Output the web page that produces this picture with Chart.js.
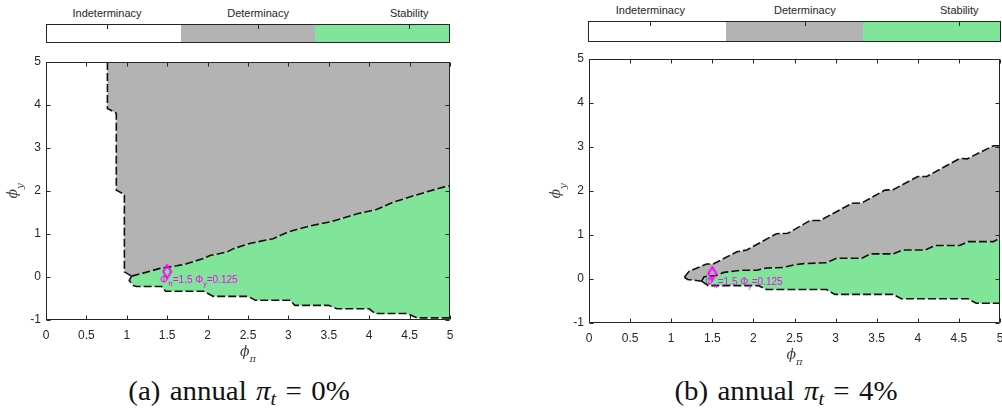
<!DOCTYPE html>
<html lang="en">
<head>
<meta charset="UTF-8">
<title>Determinacy regions</title>
<style>
    body {
        margin: 0;
        width: 1002px;
        height: 412px;
        position: relative;
        overflow: hidden;
        background: #ffffff;
        font-family: 'Liberation Sans', Arial, sans-serif;
    }
    .panel { position: absolute; }
    .cbar {
        position: absolute;
        display: flex;
        border: 1px solid #262626;
        box-sizing: border-box;
    }
    .cbar div { flex: 1; }
    .cbar-label {
        position: absolute;
        font-size: 11px;
        line-height: 12px;
        color: #262626;
        transform: translateX(-50%);
        white-space: nowrap;
    }
    .cbar-tick {
        position: absolute;
        width: 1px;
        height: 4px;
        background: #262626;
    }
    .caption {
        position: absolute;
        font-family: 'Liberation Serif', 'Times New Roman', serif;
        font-size: 27px;
        line-height: 27px;
        word-spacing: 2px;
        color: #111111;
        white-space: nowrap;
        transform: translateX(-50%) scaleX(1.07);
    }
    .caption sub { font-size: 0.7em; vertical-align: -0.25em; line-height: 0; }
</style>
</head>
<body>
<div class="panel" style="left:0px; top:50px;"><canvas id="chartA" width="500" height="320"></canvas></div>
<div class="panel" style="left:543px; top:47px;"><canvas id="chartB" width="459" height="326"></canvas></div>
<div class="caption" style="left:239px; top:378px;">(a) annual <i>π</i><sub><i>t</i></sub> = 0%</div>
<div class="caption" style="left:786px; top:378px;">(b) annual <i>π</i><sub><i>t</i></sub> = 4%</div>

<script src="https://cdn.jsdelivr.net/npm/chart.js"></script>
<script>
    const xTicks = [0, 0.5, 1, 1.5, 2, 2.5, 3, 3.5, 4, 4.5, 5];
    const yTicks = [-1, 0, 1, 2, 3, 4, 5];
    const regionLabels = ['Indeterminacy', 'Determinacy', 'Stability'];
    const regionColors = ['#ffffff', '#b3b3b3', '#80e599'];
    const labelPos = [0.151, 0.525, 0.899];

    // rule marker and its label
    const rulePoint = [1.5, 0.125];
    const ruleTextAt = [1.41, -0.07];
    const ruleText = [['Φ', 0], ['π', 1], ['=1.5 Φ', 0], ['y', 1], ['=0.125', 0]];

    // (a) annual inflation 0% : region boundaries (phi_pi, phi_y)
    const aWhiteGray = [[0.76, 5], [0.76, 3.92], [0.87, 3.81], [0.87, 2.02], [0.97, 1.92], [0.97, 0.12], [1.06, 0.02]];
    const aGrayGreen = [[1.06, 0.02], [1.2, 0.09], [1.41, 0.2], [1.62, 0.26], [1.74, 0.31], [1.95, 0.43], [2.03, 0.5],
        [2.24, 0.58], [2.32, 0.66], [2.52, 0.78], [2.81, 0.89], [3.0, 1.05], [3.27, 1.19], [3.51, 1.28], [3.68, 1.37],
        [3.85, 1.47], [4.09, 1.57], [4.3, 1.74], [4.5, 1.86], [4.71, 1.98], [4.92, 2.09], [5, 2.12]];
    const aGreenWhite = [[1.06, 0.02], [1.03, -0.08], [1.08, -0.2], [1.12, -0.22], [1.43, -0.22], [1.48, -0.33],
        [1.95, -0.33], [2.07, -0.45], [2.5, -0.45], [2.59, -0.54], [3.02, -0.54], [3.08, -0.66], [3.5, -0.66],
        [3.6, -0.74], [4.0, -0.74], [4.07, -0.85], [4.47, -0.85], [4.59, -0.95], [5, -0.95]];

    // (b) annual inflation 4%
    const bWhiteGray = [[1.16, 0.04], [1.22, 0.18], [1.43, 0.34], [1.51, 0.34], [1.8, 0.62], [1.92, 0.66], [2.28, 1.03],
        [2.42, 1.04], [2.69, 1.33], [2.81, 1.33], [3.2, 1.72], [3.32, 1.73], [3.6, 2.02], [3.7, 2.03], [4.0, 2.33],
        [4.11, 2.33], [4.51, 2.74], [4.6, 2.73], [4.92, 3.03], [5, 3.03]];
    const bWhiteGrayLow = [[1.16, 0.04], [1.2, -0.01], [1.37, -0.05]];
    const bGrayGreen = [[1.37, -0.05], [1.4, 0.05], [1.55, 0.08], [1.64, 0.15], [1.86, 0.2], [2.04, 0.2], [2.16, 0.25],
        [2.36, 0.26], [2.49, 0.32], [2.61, 0.35], [2.89, 0.37], [3.01, 0.47], [3.32, 0.47], [3.42, 0.57], [3.7, 0.57],
        [3.82, 0.66], [4.09, 0.66], [4.21, 0.76], [4.51, 0.76], [4.61, 0.85], [4.92, 0.85], [5, 0.93]];
    const bGreenWhite = [[1.37, -0.05], [1.45, -0.15], [2.06, -0.15], [2.16, -0.24], [2.89, -0.24], [2.99, -0.35],
        [3.7, -0.35], [3.8, -0.45], [4.61, -0.45], [4.71, -0.55], [5, -0.55]];

    const axisColor = '#262626';
    const sans = "'Liberation Sans', Arial, sans-serif";
    const serif = "'DejaVu Serif', serif";
    Chart.defaults.font.family = sans;

    const toXY = pts => pts.map(([x, y]) => ({x: x, y: y}));

    function polygon(pts, color) {
        return { data: toXY(pts), showLine: true, fill: 'shape', backgroundColor: color,
                 borderWidth: 0, pointRadius: 0, order: 3 };
    }
    function edge(pts) {
        return { data: toXY(pts), showLine: true, fill: false, borderColor: '#111111', borderWidth: 1.6,
                 borderDash: [8, 3], pointRadius: 0, order: 1 };
    }

    // tall open diamond, like the matlab 'd' marker
    const diamond = document.createElement('canvas');
    diamond.width = 12; diamond.height = 16;
    (function () {
        const c = diamond.getContext('2d');
        c.strokeStyle = '#ff00ff';
        c.lineWidth = 2;
        c.beginPath();
        c.moveTo(6, 1.5); c.lineTo(10, 8); c.lineTo(6, 14.5); c.lineTo(2, 8); c.closePath();
        c.stroke();
    })();

    // text made of normal and subscript pieces
    const partFont = (size, family, italic, sub) =>
        (italic ? 'italic ' : '') + (sub ? Math.round(size * 0.7) : size) + 'px ' + family;
    function partsWidth(ctx, parts, size, family, italic) {
        let w = 0;
        parts.forEach(([t, sub]) => { ctx.font = partFont(size, family, italic, sub); w += ctx.measureText(t).width; });
        return w;
    }
    function drawParts(ctx, parts, x, y, size, family, italic) {
        let cx = x;
        parts.forEach(([t, sub]) => {
            ctx.font = partFont(size, family, italic, sub);
            ctx.fillText(t, cx, y + (sub ? size * 0.4 : 0));
            cx += ctx.measureText(t).width;
        });
    }

    const framePlugin = {
        id: 'frame',
        afterDatasetsDraw(chart) {
            const {ctx, chartArea: a, scales: {x, y}} = chart;
            const L = Math.round(a.left) + 0.5, R = Math.round(a.right) - 0.5;
            const T = Math.round(a.top) + 0.5, B = Math.round(a.bottom) - 0.5;
            ctx.save();
            ctx.strokeStyle = axisColor;
            ctx.lineWidth = 1;
            ctx.beginPath();
            ctx.rect(L, T, R - L, B - T);
            xTicks.forEach(v => {
                const px = Math.round(x.getPixelForValue(v)) + 0.5;
                ctx.moveTo(px, B); ctx.lineTo(px, B - 4);
                ctx.moveTo(px, T); ctx.lineTo(px, T + 4);
            });
            yTicks.forEach(v => {
                const py = Math.round(y.getPixelForValue(v)) + 0.5;
                ctx.moveTo(L, py); ctx.lineTo(L + 4, py);
                ctx.moveTo(R, py); ctx.lineTo(R - 4, py);
            });
            ctx.stroke();
            ctx.restore();
        },
        afterDraw(chart) {
            const {ctx, chartArea: a, scales: {x, y}} = chart;
            ctx.save();
            ctx.textBaseline = 'alphabetic';
            ctx.fillStyle = '#404040';
            // x title  phi_pi
            const xt = [['ϕ', 0], ['π', 1]];
            const wx = partsWidth(ctx, xt, 14, serif, true);
            drawParts(ctx, xt, (a.left + a.right) / 2 - wx / 2, a.bottom + 36, 14, serif, true);
            // y title  phi_y
            const yt = [['ϕ', 0], ['y', 1]];
            const wy = partsWidth(ctx, yt, 14, serif, true);
            ctx.save();
            ctx.translate(a.left - 29, (a.top + a.bottom) / 2);
            ctx.rotate(-Math.PI / 2);
            drawParts(ctx, yt, -wy / 2, 0, 14, serif, true);
            ctx.restore();
            // rule label
            ctx.fillStyle = '#ff00ff';
            ctx.textBaseline = 'middle';
            drawParts(ctx, ruleText, x.getPixelForValue(ruleTextAt[0]), y.getPixelForValue(ruleTextAt[1]), 10, sans, false);
            ctx.restore();
        }
    };

    function makeChart(id, datasets, padRight) {
        return new Chart(document.getElementById(id), {
            type: 'scatter',
            data: { datasets: datasets },
            options: {
                responsive: false,
                animation: false,
                events: [],
                layout: { autoPadding: false, padding: { top: 12, right: padRight, left: 0, bottom: 0 } },
                plugins: { legend: { display: false }, tooltip: { enabled: false } },
                scales: {
                    x: {
                        type: 'linear', min: 0, max: 5,
                        grid: { display: false, drawTicks: false },
                        border: { display: false },
                        afterBuildTicks: s => { s.ticks = xTicks.map(v => ({value: v})); },
                        afterFit: s => { s.height = 50; s.paddingLeft = 0; s.paddingRight = 0; },
                        ticks: { padding: 8, color: axisColor, font: { size: 12 }, maxRotation: 0, autoSkip: false,
                                 callback: v => String(v) }
                    },
                    y: {
                        type: 'linear', min: -1, max: 5,
                        grid: { display: false, drawTicks: false },
                        border: { display: false },
                        afterBuildTicks: s => { s.ticks = yTicks.map(v => ({value: v})); },
                        afterFit: s => { s.width = 46; s.paddingTop = 0; s.paddingBottom = 0; },
                        ticks: { padding: 5, color: axisColor, font: { size: 12 }, autoSkip: false,
                                 callback: v => String(v) }
                    }
                }
            },
            plugins: [framePlugin]
        });
    }

    function markerSet() {
        return { data: [{x: rulePoint[0], y: rulePoint[1]}], pointStyle: diamond, pointRadius: 6,
                 order: 0 };
    }

    const aGray = aWhiteGray.concat(aGrayGreen.slice(1), [[5, 5]]);
    const aGreen = aGrayGreen.concat(aGreenWhite.slice(1).reverse());
    makeChart('chartA', [
        markerSet(),
        edge(aWhiteGray), edge(aGrayGreen), edge(aGreenWhite),
        polygon(aGreen, regionColors[2]), polygon(aGray, regionColors[1])
    ], 50);

    const bGray = bWhiteGray.concat(bGrayGreen.slice().reverse(), bWhiteGrayLow.slice(0, -1).reverse());
    const bGreen = bGrayGreen.concat(bGreenWhite.slice(1).reverse());
    makeChart('chartB', [
        markerSet(),
        edge(bWhiteGray), edge(bWhiteGrayLow), edge(bGrayGreen), edge(bGreenWhite),
        polygon(bGreen, regionColors[2]), polygon(bGray, regionColors[1])
    ], 2);

    // colour bars above each panel
    function colorbar(left, top, width, height, labelTop) {
        const bar = document.createElement('div');
        bar.className = 'cbar';
        Object.assign(bar.style, { left: left + 'px', top: top + 'px', width: width + 'px', height: height + 'px' });
        regionColors.forEach(c => {
            const seg = document.createElement('div');
            seg.style.background = c;
            bar.appendChild(seg);
        });
        document.body.appendChild(bar);
        regionLabels.forEach((txt, i) => {
            const x = left + width * labelPos[i];
            const lab = document.createElement('div');
            lab.className = 'cbar-label';
            lab.textContent = txt;
            Object.assign(lab.style, { left: x + 'px', top: labelTop + 'px' });
            document.body.appendChild(lab);
            const tick = document.createElement('div');
            tick.className = 'cbar-tick';
            Object.assign(tick.style, { left: Math.round(x) + 'px', top: (top + 1) + 'px' });
            document.body.appendChild(tick);
        });
    }
    colorbar(46, 24, 404, 19, 7);
    colorbar(588, 21, 413, 21, 4);
</script>
</body>
</html>
